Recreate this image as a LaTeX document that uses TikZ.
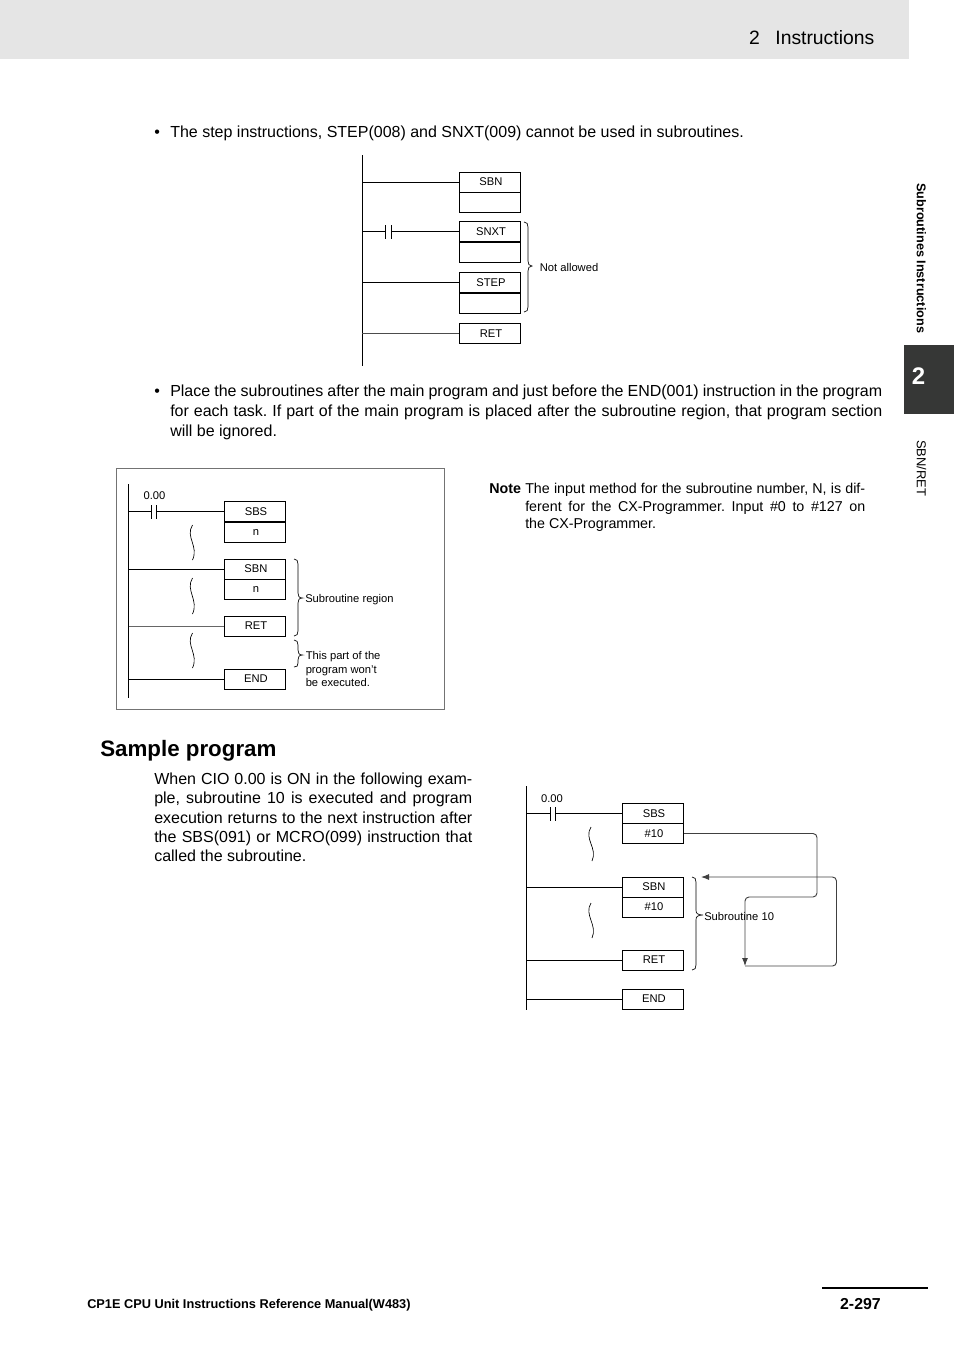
\documentclass[tikz,border=0pt]{standalone}
\usepackage{fontspec}
\setmainfont{Liberation Sans}
\frenchspacing
\tikzset{
	cellbox/.style={draw, line width=0.6pt, fill=white, inner sep=0pt, minimum width=46pt, minimum height=15pt, font=\fontsize{8.4}{9}\selectfont, execute at begin node=\hspace*{1.5pt}},
	wire/.style={line width=0.6pt},
	rail/.style={line width=0.75pt},
	wavy/.style={line width=0.5pt},
	bracket/.style={line width=0.5pt},
	flow/.style={line width=0.7pt, rounded corners=3pt, color=black!75},
	tip/.style={-{Latex[length=6pt,width=4.5pt]}},
	smalltext/.style={anchor=west, inner sep=0pt, align=left, font=\fontsize{8.4}{10.2}\selectfont},
	bodytext/.style={anchor=base west, inner sep=0pt, font=\fontsize{12}{14.3}\selectfont}
}
\usetikzlibrary{arrows.meta}
\begin{document}
\begin{tikzpicture}[x=0.75pt,y=0.75pt,yscale=-1,xscale=1]
	\useasboundingbox (0,0) rectangle (954,1350);
	%Page furniture
	\fill [color={rgb, 255:red, 229; green, 229; blue, 229}] (0,0) rectangle (909,59);
	\fill [color={rgb, 255:red, 54; green, 55; blue, 54}] (904,345) rectangle (954,414);
	\draw [line width=1.5pt] (822,1288) -- (928,1288);
	\node (pagehead) [anchor=base east, inner sep=0pt, font=\fontsize{14.5}{18}\selectfont] at (874.5,44.5) {2\hspace{0.8em}Instructions};
	\node (tabnum) [inner sep=0pt, text=white, font=\fontsize{18}{20}\selectfont\bfseries] at (918.5,376) {2};
	\node (sidetop) [anchor=west, rotate=-90, inner sep=0pt, font=\fontsize{9.5}{10}\selectfont\bfseries] at (921.5,183) {Subroutines Instructions};
	\node (sidebot) [anchor=west, rotate=-90, inner sep=0pt, font=\fontsize{9.7}{10}\selectfont] at (921.5,440) {SBN/RET};
	\node (manual) [anchor=base west, inner sep=0pt, font=\fontsize{9.57}{10}\selectfont\bfseries] at (87,1308) {CP1E CPU Unit Instructions Reference Manual(W483)};
	\node (pagenum) [anchor=base east, inner sep=0pt, font=\fontsize{11.9}{13}\selectfont\bfseries] at (881,1309) {2-297};
	%Text blocks
	\node (bulletA) [bodytext] at (154,137.5) {•};
	\node (paraA) [bodytext] at (170,137.5) {The step instructions, STEP(008) and SNXT(009) cannot be used in subroutines.};
	\node (bulletB) [bodytext] at (154,396.5) {•};
	\node (paraB) [anchor=north west, inner sep=0pt, font=\fontsize{12}{14.9}\selectfont, text width=534pt, align=justify] at (170,384.5) {Place the subroutines after the main program and just before the END(001) instruction in the program\linebreak for each task. If part of the main program is placed after the subroutine region, that program section\linebreak will be ignored.};
	\node (notehead) [anchor=north west, inner sep=0pt, font=\fontsize{10.7}{13.1}\selectfont\bfseries] at (489,483) {Note};
	\node (notetext) [anchor=north west, inner sep=0pt, font=\fontsize{10.7}{13.1}\selectfont, text width=255pt, align=justify] at (525,483) {The input method for the subroutine number, N, is dif-\linebreak ferent for the CX-Programmer. Input \#0 to \#127 on\linebreak the CX-Programmer.};
	\node (samplehead) [anchor=base west, inner sep=0pt, font=\fontsize{16.75}{20}\selectfont\bfseries] at (100,756) {Sample program};
	\node (sampletext) [anchor=north west, inner sep=0pt, font=\fontsize{12}{14.3}\selectfont, text width=238.5pt, align=justify] at (154,773) {When CIO 0.00 is ON in the following exam-\linebreak ple, subroutine 10 is executed and program\linebreak execution returns to the next instruction after\linebreak the SBS(091) or MCRO(099) instruction that\linebreak called the subroutine.};
	%Upper ladder
	\coordinate (railAtop) at (362,155);
	\coordinate (railAbot) at (362,366);
	\draw [rail] (railAtop) -- (railAbot);
	\node (sbnA) [cellbox] at (490,182) {SBN};
	\node (sbnAarg) [cellbox] at (490,202) {};
	\node (snxtA) [cellbox] at (490,231.5) {SNXT};
	\node (snxtAarg) [cellbox] at (490,252) {};
	\node (stepA) [cellbox] at (490,282.5) {STEP};
	\node (stepAarg) [cellbox] at (490,303) {};
	\node (retA) [cellbox] at (490,333.5) {RET};
	\coordinate (plateAl) at (385.5,231.5);
	\coordinate (plateAr) at (391,231.5);
	\draw [wire] (railAtop |- sbnA.west) -- (sbnA.west);
	\draw [wire] (railAtop |- snxtA.west) -- (plateAl);
	\draw [wire] (plateAl |- 0,225) -- (plateAl |- 0,239);
	\draw [wire] (plateAr |- 0,225) -- (plateAr |- 0,239);
	\draw [wire] (plateAr) -- (snxtA.west);
	\draw [wire] (railAtop |- stepA.west) -- (stepA.west);
	\draw [wire, color=black!70] (railAtop |- retA.west) -- (retA.west);
	\draw [bracket] (524,222) .. controls (527,222) and (528,224) .. (528,227) -- (528,261) .. controls (528,264) and (529,266) .. (532,266) .. controls (529,266) and (528,268) .. (528,271) -- (528,307) .. controls (528,310) and (527,312) .. (524,312);
	\node (notallowed) [smalltext] at (539.5,267) {Not allowed};
	%Framed ladder
	\draw [line width=0.6pt, color=black!55] (116,468) rectangle (444.5,709);
	\coordinate (railBtop) at (128.5,484);
	\coordinate (railBbot) at (128.5,698);
	\draw [rail] (railBtop) -- (railBbot);
	\node (sbsB) [cellbox] at (255,511.5) {SBS};
	\node (sbsBarg) [cellbox] at (255,532) {n};
	\node (sbnB) [cellbox] at (255,569) {SBN};
	\node (sbnBarg) [cellbox] at (255,589) {n};
	\node (retB) [cellbox] at (255,626) {RET};
	\node (endB) [cellbox] at (255,679) {END};
	\coordinate (plateBl) at (151,511.5);
	\coordinate (plateBr) at (156.5,511.5);
	\draw [wire] (railBtop |- sbsB.west) -- (plateBl);
	\draw [wire] (plateBl |- 0,505) -- (plateBl |- 0,519);
	\draw [wire] (plateBr |- 0,505) -- (plateBr |- 0,519);
	\draw [wire] (plateBr) -- (sbsB.west);
	\draw [wire] (railBtop |- sbnB.west) -- (sbnB.west);
	\draw [wire, color=black!60] (railBtop |- retB.west) -- (retB.west);
	\draw [wire] (railBtop |- endB.west) -- (endB.west);
	\node (addrB) [inner sep=0pt, font=\fontsize{8.4}{9}\selectfont] at (154.5,495.5) {0.00};
	\draw [wavy] (192.5,525) .. controls (185,537) and (199,546) .. (192.5,560);
	\draw [wavy] (192.5,578) .. controls (185,590) and (199,600) .. (192.5,614);
	\draw [wavy] (192.5,633) .. controls (185,645) and (199,654) .. (192.5,668);
	\draw [bracket] (294,559) .. controls (297,559) and (298,561) .. (298,564) -- (298,593) .. controls (298,596) and (299,598) .. (302.5,598) .. controls (299,598) and (298,600) .. (298,603) -- (298,631) .. controls (298,634) and (297,636) .. (294,636);
	\draw [bracket] (294,640) .. controls (297,640) and (298,642) .. (298,645) -- (298,650) .. controls (298,653) and (299,655) .. (302.5,655) .. controls (299,655) and (298,657) .. (298,660) -- (298,663) .. controls (298,666) and (297,667) .. (294,667);
	\node (regionB) [smalltext] at (305,599.5) {Subroutine region};
	\node (ignoredB) [smalltext] at (305.5,669) {This part of the\\program won’t\\be executed.};
	%Lower ladder
	\coordinate (railCtop) at (526,786);
	\coordinate (railCbot) at (526,1010);
	\draw [rail] (railCtop) -- (railCbot);
	\node (sbsC) [cellbox] at (653,813.5) {SBS};
	\node (sbsCarg) [cellbox] at (653,833.5) {\#10};
	\node (sbnC) [cellbox] at (653,887) {SBN};
	\node (sbnCarg) [cellbox] at (653,907) {\#10};
	\node (retC) [cellbox] at (653,960) {RET};
	\node (endC) [cellbox] at (653,999) {END};
	\coordinate (plateCl) at (550,813.5);
	\coordinate (plateCr) at (555.5,813.5);
	\draw [wire] (railCtop |- sbsC.west) -- (plateCl);
	\draw [wire] (plateCl |- 0,807) -- (plateCl |- 0,821);
	\draw [wire] (plateCr |- 0,807) -- (plateCr |- 0,821);
	\draw [wire] (plateCr) -- (sbsC.west);
	\draw [wire] (railCtop |- sbnC.west) -- (sbnC.west);
	\draw [wire] (railCtop |- retC.west) -- (retC.west);
	\draw [wire] (railCtop |- endC.west) -- (endC.west);
	\node (addrC) [inner sep=0pt, font=\fontsize{8.4}{9}\selectfont] at (552,798.5) {0.00};
	\draw [wavy] (591,827) .. controls (583.5,839) and (598,848) .. (592,861);
	\draw [wavy] (591,903) .. controls (583.5,915) and (598,925) .. (592,938);
	\draw [bracket] (692,877) .. controls (695,877) and (696,879) .. (696,882) -- (696,910) .. controls (696,913) and (697,915) .. (703,915) .. controls (697,915) and (696,917) .. (696,920) -- (696,965) .. controls (696,968) and (695,970) .. (692,970);
	\node (routineC) [smalltext] at (704,916) {Subroutine 10};
	\coordinate (jumpC) at (745,966);
	\coordinate (backC) at (701,877);
	\draw [flow, tip] (sbsCarg.east) -- (817,833.5) -- (817,897) -- (745,897) -- (jumpC);
	\draw [flow, tip] (jumpC) -- (836.5,966) -- (836.5,877) -- (backC);
\end{tikzpicture}
\end{document}
